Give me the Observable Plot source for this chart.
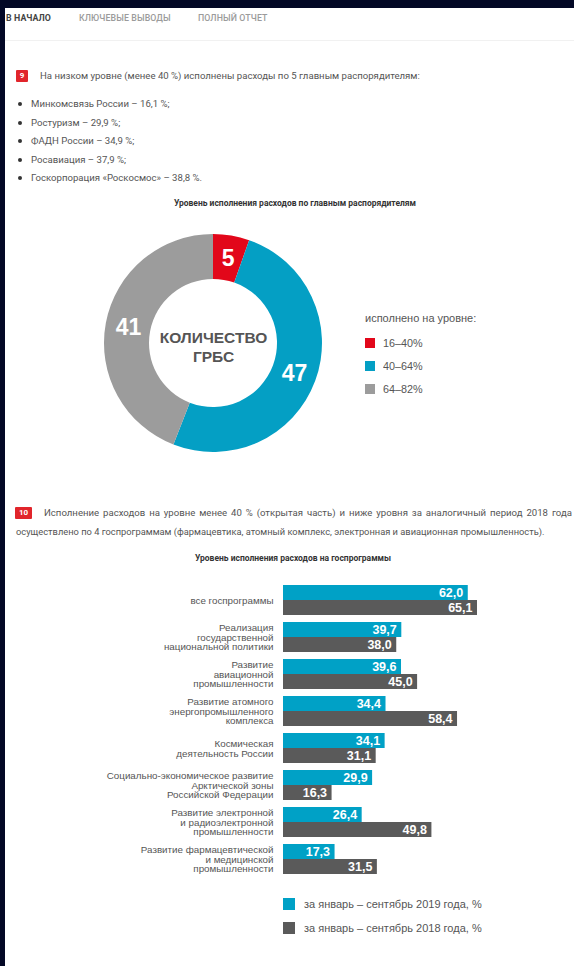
<!DOCTYPE html>
<html><head><meta charset="utf-8">
<script src="https://cdn.jsdelivr.net/npm/d3@7"></script>
<script src="https://cdn.jsdelivr.net/npm/@observablehq/plot@0.6"></script>
<style>
html,body{margin:0;padding:0;background:#fff;}
#page{position:relative;width:574px;height:966px;overflow:hidden;background:#fff;font-family:Roboto,"Noto Sans",sans-serif;color:#4a4a4a;}
#topbar{position:absolute;left:0;top:0;width:574px;height:8px;background:#030826;}
#leftbar{position:absolute;left:0;top:0;width:5px;height:966px;background:#030826;}
#navline{position:absolute;left:5px;top:40px;width:569px;height:1px;background:#f1f1f1;}
.abs{position:absolute;white-space:nowrap;}
.nav{font-size:8.8px;line-height:12px;top:12px;color:#9b9b9b;font-weight:500;letter-spacing:0.1px;}
.txt{font-size:9.6px;line-height:12px;color:#555;}
.badge{position:absolute;background:#e1252b;color:#fff;font-size:8px;font-weight:bold;text-align:center;line-height:12px;height:12px;border-radius:1px;}
.dot{position:absolute;width:4px;height:4px;border-radius:2px;background:#333;}
.ctitle{font-family:Roboto,sans-serif;font-weight:bold;font-size:8.5px;color:#333;line-height:12px;}
#donutLegTitle{font-family:"Liberation Sans",Arial,sans-serif;font-size:11px;color:#555;line-height:14px;}
.dl-swatch,.bl-swatch{padding-bottom:0 !important;margin:0 !important;display:flex !important;align-items:center !important;}
.dl-swatch{height:23px;}
.bl-swatch{height:24px;}
.dl-swatch svg{margin-right:8px !important;}
.bl-swatch svg{margin-right:9px !important;}
.dl-swatches,.bl-swatches{font-family:"Liberation Sans",Arial,sans-serif !important;color:#555 !important;margin:0 !important;}
.dl-swatches{font-size:10.8px !important;}
.bl-swatches{font-size:11px !important;}
</style></head>
<body>
<div id="page">
  <div id="topbar"></div><div id="leftbar"></div><div id="navline"></div>
  <div class="abs nav" style="left:6px;color:#444;font-weight:bold;">В НАЧАЛО</div>
  <div class="abs nav" style="left:79px;">КЛЮЧЕВЫЕ ВЫВОДЫ</div>
  <div class="abs nav" style="left:198px;">ПОЛНЫЙ ОТЧЕТ</div>

  <div class="badge" style="left:16px;top:70px;width:12px;">9</div>
  <div class="abs txt" style="left:40px;top:70px;">На низком уровне (менее 40 %) исполнены расходы по 5 главным распорядителям:</div>
  <div id="bullets"></div>

  <div id="donutTitle" class="abs ctitle" style="left:0;width:590px;text-align:center;top:197px;"></div>
  <div id="donut" class="abs" style="left:93px;top:223px;"></div>
  <div id="donutLegTitle" class="abs" style="left:365px;top:311px;"></div>
  <div id="donutLeg" class="abs" style="left:365px;top:331px;"></div>

  <div class="badge" style="left:15px;top:507px;width:17px;">10</div>
  <div class="abs txt" style="left:44px;top:507px;width:528px;text-align:justify;text-align-last:justify;white-space:normal;">Исполнение расходов на уровне менее 40 % (открытая часть) и ниже уровня за аналогичный период 2018 года</div>
  <div class="abs txt" style="left:16px;top:526px;font-size:9.3px;">осуществлено по 4 госпрограммам (фармацевтика, атомный комплекс, электронная и авиационная промышленность).</div>

  <div id="barTitle" class="abs ctitle" style="left:195px;top:552px;"></div>
  <div id="bars" class="abs" style="left:0;top:570px;"></div>
  <div id="barLeg" class="abs" style="left:283px;top:892px;"></div>
</div>
<script>
// ---------- data ----------
const managers = ["Минкомсвязь России", "Ростуризм", "ФАДН России", "Росавиация", "Госкорпорация «Роскосмос»"];
const managerPct = ["16,1", "29,9", "34,9", "37,9", "38,8"];

const donutTitle = "Уровень исполнения расходов по главным распорядителям";
const levels = ["16–40%", "40–64%", "64–82%"];
const counts = [5, 47, 41];
const levelColors = ["#e2071a", "#049fc4", "#9c9c9c"];
const donutCenter = "КОЛИЧЕСТВО\nГРБС";
const legendTitle = "исполнено на уровне:";

const barTitle = "Уровень исполнения расходов на госпрограммы";
const programs = [
  "все госпрограммы",
  "Реализация\nгосударственной\nнациональной политики",
  "Развитие\nавиационной\nпромышленности",
  "Развитие атомного\nэнергопромышленного\nкомплекса",
  "Космическая\nдеятельность России",
  "Социально-экономическое развитие\nАрктической зоны\nРоссийской Федерации",
  "Развитие электронной\nи радиоэлектронной\nпромышленности",
  "Развитие фармацевтической\nи медицинской\nпромышленности"
];
const v2019 = [62.0, 39.7, 39.6, 34.4, 34.1, 29.9, 26.4, 17.3];
const v2018 = [65.1, 38.0, 45.0, 58.4, 31.1, 16.3, 49.8, 31.5];
const seriesNames = ["за январь – сентябрь 2019 года, %", "за январь – сентябрь 2018 года, %"];
const seriesColors = ["#00a1c6", "#5a5a5a"];

// ---------- text ----------
const bl = document.getElementById("bullets");
managers.forEach((m, i) => {
  const y = 104 + i * 18.5;
  const d = document.createElement("div"); d.className = "dot"; d.style.left = "18px"; d.style.top = (y - 2) + "px"; bl.appendChild(d);
  const t = document.createElement("div"); t.className = "abs txt"; t.style.left = "31px"; t.style.top = (y - 6) + "px";
  t.textContent = `${m} – ${managerPct[i]} %${i === managers.length - 1 ? "." : ";"}`;
  bl.appendChild(t);
});
document.getElementById("donutTitle").textContent = donutTitle;
document.getElementById("donutLegTitle").textContent = legendTitle;
document.getElementById("barTitle").textContent = barTitle;

// ---------- donut ----------
const R_OUT = 109, R_IN = 64;
const slices = levels.map((level, i) => ({level, count: counts[i]}));
const pie = d3.pie().sort(null).value(d => d.count)(slices);
const arcGen = d3.arc().innerRadius(R_IN).outerRadius(R_OUT);
const labelArc = d3.arc().innerRadius(R_IN + 2).outerRadius(R_OUT - 2);
const labelRows = pie.map(p => { const c = labelArc.centroid(p); return {x: c[0], y: -c[1], text: String(p.data.count)}; });
const colorScale = Plot.scale({color: {domain: levels, range: levelColors}});

const donut = Plot.plot({
  width: 240, height: 240, margin: 0,
  x: {domain: [-120, 120], axis: null},
  y: {domain: [-120, 120], axis: null},
  style: {fontFamily: "'Liberation Sans', Arial, sans-serif", background: "transparent", overflow: "visible"},
  marks: [
    (index, scales) => {
      const g = d3.create("svg:g");
      const cx = scales.x(0), cy = scales.y(0);
      g.selectAll("path").data(pie).join("path")
        .attr("transform", `translate(${cx},${cy})`)
        .attr("d", arcGen)
        .attr("fill", d => colorScale.apply(d.data.level));
      return g.node();
    },
    Plot.text(labelRows, {x: "x", y: "y", text: "text", fill: "white", fontSize: 23, fontWeight: "bold"}),
    Plot.text([donutCenter], {frameAnchor: "middle", dy: 3, text: d => d, fill: "#555", fontSize: 15.5, fontWeight: "bold", lineHeight: 1.2})
  ]
});
document.getElementById("donut").appendChild(donut);

document.getElementById("donutLeg").appendChild(Plot.legend({
  color: {domain: levels, range: levelColors}, legend: "swatches", columns: 1, swatchSize: 10, className: "dl"
}));

// ---------- bars ----------
const rows = programs.flatMap((p, i) => [
  {program: p, series: seriesNames[0], value: v2019[i]},
  {program: p, series: seriesNames[1], value: v2018[i]}
]);
const fmt = v => v.toFixed(1).replace(".", ",");
const bars = Plot.plot({
  width: 574, height: 320, marginTop: 13, marginBottom: 14, marginLeft: 283, marginRight: 97,
  x: {domain: [0, 65.1], axis: null},
  y: {domain: seriesNames, axis: null, padding: 0},
  fy: {domain: programs, paddingInner: 0.18, paddingOuter: 0, label: null, axis: null},
  color: {domain: seriesNames, range: seriesColors},
  style: {fontFamily: "'Liberation Sans', Arial, sans-serif", background: "transparent", overflow: "visible"},
  marks: [
    Plot.barX(rows, {x: "value", y: "series", fy: "program", fill: "series"}),
    Plot.text(rows, {x: "value", y: "series", fy: "program", text: d => fmt(d.value), textAnchor: "end", dx: -5, fill: "white", fontWeight: "bold", fontSize: 12.5}),
    Plot.axisFy({anchor: "left", tickSize: 0, tickPadding: 10, fontSize: 9.8, lineHeight: 1.0, label: null, fill: "#555"})
  ]
});
document.getElementById("bars").appendChild(bars);

document.getElementById("barLeg").appendChild(Plot.legend({
  color: {domain: seriesNames, range: seriesColors}, legend: "swatches", columns: 1, swatchSize: 12, className: "bl"
}));
</script>
</body></html>
